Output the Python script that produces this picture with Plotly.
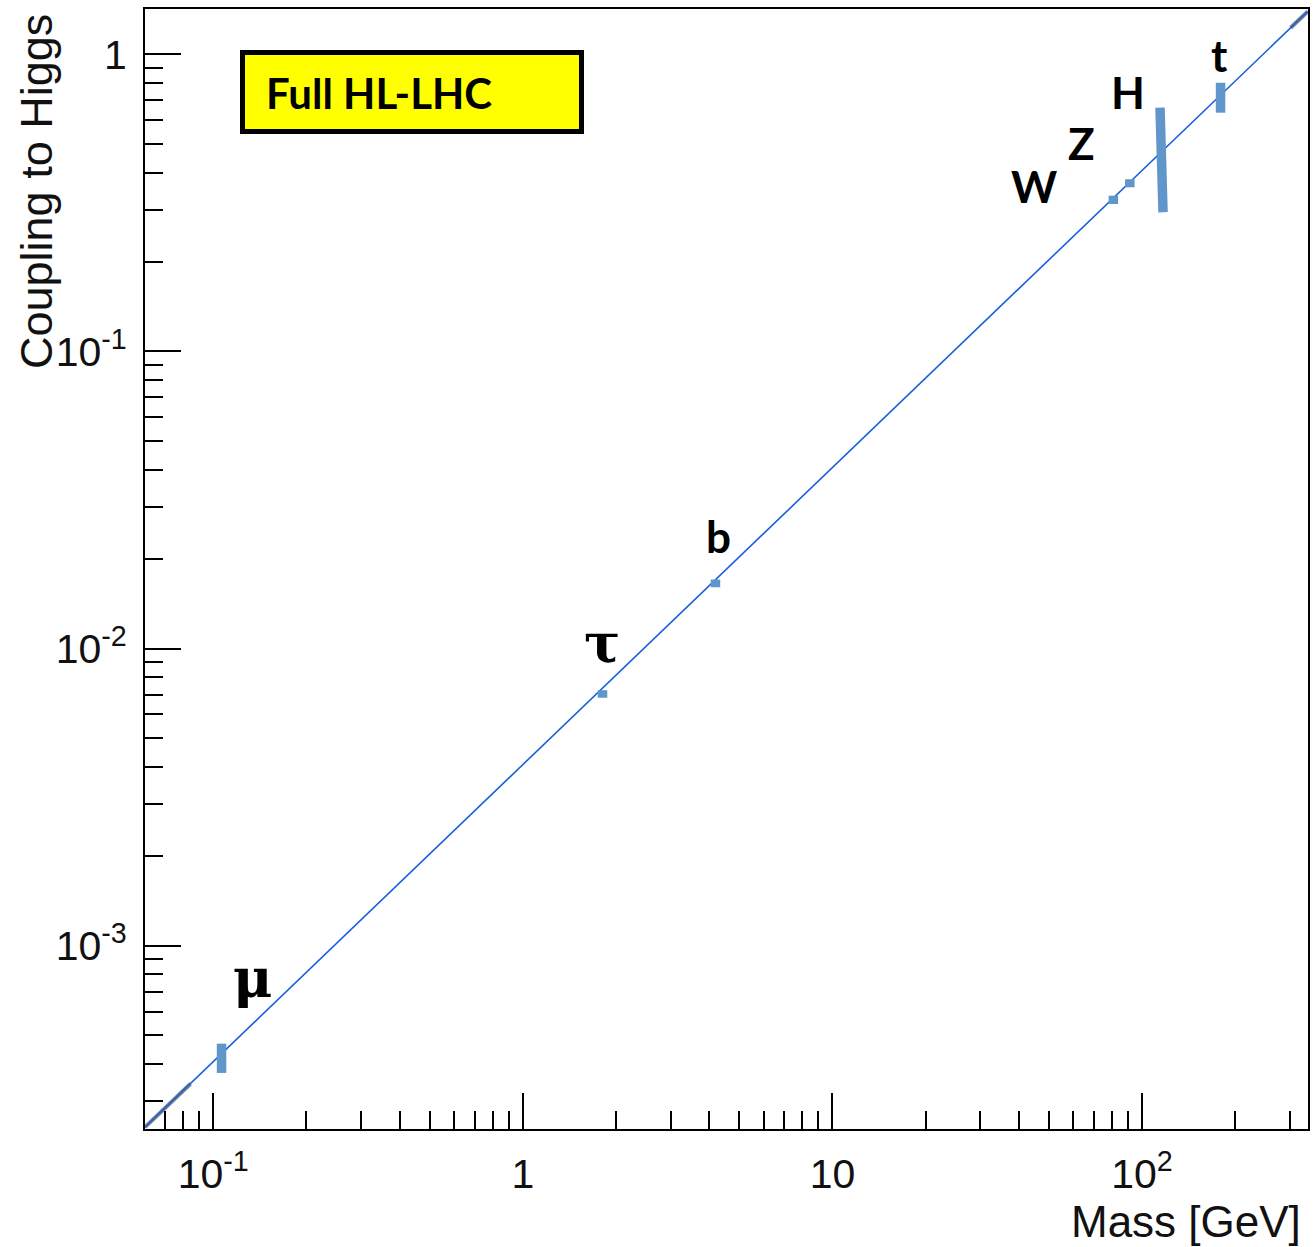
import plotly.graph_objects as go

# ---------------- data ----------------
particles = ["μ", "τ", "b", "W", "Z", "H", "t"]
mass_top = [0.1064, 1.809, 4.19, 80.8, 91.3, 114.3, 179.3]      # GeV, upper end of bar
mass_bottom = [0.1064, 1.809, 4.19, 80.8, 91.3, 116.9, 179.3]   # GeV, lower end of bar
coupling_hi = [4.68e-4, 7.24e-3, 0.01707, 0.3343, 0.3797, 0.661, 0.802]
coupling_lo = [3.73e-4, 6.83e-3, 0.01608, 0.3135, 0.3568, 0.294, 0.636]

line_mass = [0.0602, 343.0]
line_coupling = [2.45e-4, 1.394]
gray_low_mass = [0.0602, 0.0845]
gray_low_coupling = [2.45e-4, 3.43e-4]
gray_high_mass = [302.0, 343.0]
gray_high_coupling = [1.228, 1.394]

x_tickvals = [0.1, 1, 10, 100]
x_ticktext = ["10<sup>-1</sup>", "1", "10", "10<sup>2</sup>"]
y_tickvals = [1e-3, 1e-2, 1e-1, 1]
y_ticktext = ["10<sup>-3</sup>", "10<sup>-2</sup>", "10<sup>-1</sup>", "1"]

box_text = "Full HL-LHC"
x_title = "Mass [GeV]"
y_title = "Coupling to Higgs"

# ---------------- layout helpers ----------------
FW, FH = 1314, 1247
L, R, T, B = 145, 1308, 9, 1129


def px(x):
    return (x - L) / (R - L)


def py(y):
    return 1 - (y - T) / (B - T)


minor_x = [k * 10.0 ** e for e in range(-2, 3) for k in range(2, 10)]
minor_y = [k * 10.0 ** e for e in range(-4, 1) for k in range(2, 10)]

BAR_COLOR = "#6196cb"
LINE_COLOR = "#1a5fdc"

fig = go.Figure()

fig.add_trace(go.Scatter(x=gray_low_mass, y=gray_low_coupling, mode="lines",
                         line=dict(color="rgba(110,110,110,0.85)", width=4),
                         hoverinfo="skip", showlegend=False))
fig.add_trace(go.Scatter(x=gray_high_mass, y=gray_high_coupling, mode="lines",
                         line=dict(color="rgba(110,110,110,0.85)", width=4),
                         hoverinfo="skip", showlegend=False))
fig.add_trace(go.Scatter(x=line_mass, y=line_coupling, mode="lines",
                         line=dict(color=LINE_COLOR, width=1.6),
                         hoverinfo="skip", showlegend=False))

for name, mt, mb, hi, lo in zip(particles, mass_top, mass_bottom, coupling_hi, coupling_lo):
    fig.add_trace(go.Scatter(x=[mt, mb], y=[hi, lo], mode="lines", name=name,
                             line=dict(color=BAR_COLOR, width=9.5),
                             showlegend=False))

# particle labels (pixel centres)
label_pos = {
    "μ": (253, 978, 54, "DejaVu Serif"),
    "τ": (602, 643, 54, "DejaVu Serif"),
    "b": (718, 536, 44, "Lato"),
    "W": (1034, 186, 44, "Lato"),
    "Z": (1081, 143, 44, "Lato"),
    "H": (1128, 92, 44, "Lato"),
    "t": (1219, 55, 44, "Lato"),
}
annotations = []
for name in particles:
    cx, cy, size, fam = label_pos[name]
    annotations.append(dict(text="<b>%s</b>" % name, x=px(cx), y=py(cy), xref="paper", yref="paper",
                            xanchor="center", yanchor="middle", showarrow=False,
                            font=dict(family=fam, size=size, color="black")))

annotations.append(dict(text="<b>%s</b>" % box_text, x=px(264), y=py(93), xref="paper", yref="paper",
                        xanchor="left", yanchor="middle", showarrow=False,
                        font=dict(family="Lato", size=42, color="black")))
annotations.append(dict(text=y_title, x=px(37), y=py(192), xref="paper", yref="paper",
                        xanchor="center", yanchor="middle", textangle=-90, showarrow=False,
                        font=dict(family="Liberation Sans, Arial", size=45, color="#111")))
annotations.append(dict(text=x_title, x=px(1186), y=py(1221), xref="paper", yref="paper",
                        xanchor="center", yanchor="middle", showarrow=False,
                        font=dict(family="Liberation Sans, Arial", size=44, color="#111")))

shapes = [dict(type="rect", xref="paper", yref="paper",
               x0=px(242.5), x1=px(581.5), y0=py(131.5), y1=py(52.5),
               fillcolor="#ffff00", line=dict(color="black", width=5), layer="above")]

axis_common = dict(type="log", showgrid=False, zeroline=False, showline=True, linecolor="black",
                   linewidth=2, mirror=True, ticks="inside", tickcolor="black", tickwidth=2,
                   ticklen=36, automargin=False,
                   tickfont=dict(family="Liberation Sans, Arial", size=41, color="#111"))

fig.update_layout(
    width=FW, height=FH,
    margin=dict(l=L, r=FW - R, t=T, b=FH - B),
    paper_bgcolor="white", plot_bgcolor="white",
    xaxis=dict(range=[-1.2203, 2.536], tickvals=x_tickvals, ticktext=x_ticktext,
               ticklabelstandoff=8,
               minor=dict(tickvals=minor_x, ticks="inside", ticklen=18, tickwidth=2, tickcolor="black"),
               **axis_common),
    yaxis=dict(range=[-3.617, 0.1524], tickvals=y_tickvals, ticktext=y_ticktext,
               ticklabelstandoff=8,
               minor=dict(tickvals=minor_y, ticks="inside", ticklen=18, tickwidth=2, tickcolor="black"),
               **axis_common),
    annotations=annotations,
    shapes=shapes,
    showlegend=False,
)

fig.write_html("out.html", config={"displayModeBar": False},
               post_script="document.body.style.margin='0';document.body.style.overflow='hidden';")
